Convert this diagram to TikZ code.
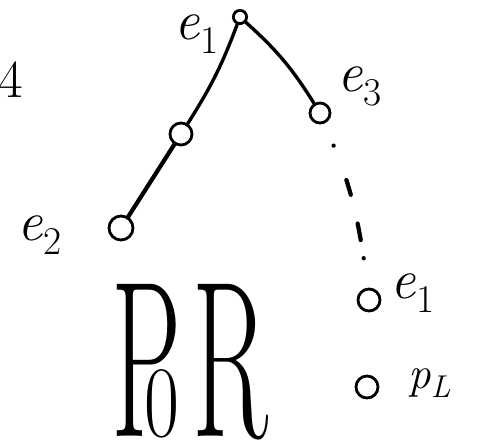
\documentclass[tikz,border=0pt]{standalone}
\usepackage{tikz}
\usetikzlibrary{positioning}

\begin{document}
\begin{tikzpicture}[x=0.025cm,y=-0.025cm,
  vtx/.style={draw,circle,line width=2pt,inner sep=0pt},
  lbl/.style={inner sep=0pt,font=\fontsize{40}{40}\selectfont\itshape},
  edge/.style={line width=2.4pt,line cap=round}]
\useasboundingbox (0,0) rectangle (480,446);

\node[vtx,minimum size=0.33cm] (root) at (240,17) {};
\node[vtx,minimum size=0.55cm] (mid) at (181,134) {};
\node[vtx,minimum size=0.6cm] (ntwo) at (121,228) {};
\node[vtx,minimum size=0.5cm] (nthree) at (320,113) {};
\node[vtx,minimum size=0.55cm] (nlast) at (369,300) {};
\node[vtx,minimum size=0.55cm] (npl) at (367,387) {};

\node[lbl] (lroot) at (197,34) {e\textsubscript{\upshape 1}};
\node[lbl] (lthree) at (360,86) {e\textsubscript{\upshape 3}};
\node[lbl] (ltwo) at (40,235) {e\textsubscript{\upshape 2}};
\node[lbl] (llast) at (413,293) {e\textsubscript{\upshape 1}};
\node[lbl,font=\fontsize{32}{32}\selectfont\itshape] (lpl) at (430,383) {p\textsubscript{L}};
\node[lbl,font=\fontsize{38}{38}\selectfont] (four) at (11,80) {4};
\node[inner sep=0pt,font=\fontsize{66}{66}\selectfont] (por) at (190,362)
  {\scalebox{1.2}[2.4]{P\kern-22pt{\fontsize{30}{30}\selectfont\scalebox{1.5}[1]{0}}\kern8pt R}};

\draw[edge] (root) to[bend left=6] (mid);
\draw[edge,line width=3pt] (mid) -- (ntwo);
\draw[edge] (root) to[bend left=8] (nthree);
\draw[edge,line width=3pt,shorten <=17pt,
  dash pattern=on 0.1pt off 26pt on 11pt off 21pt on 12pt off 13pt on 0.1pt off 80pt]
  (nthree) to[bend left=8] (nlast);
\end{tikzpicture}
\end{document}
